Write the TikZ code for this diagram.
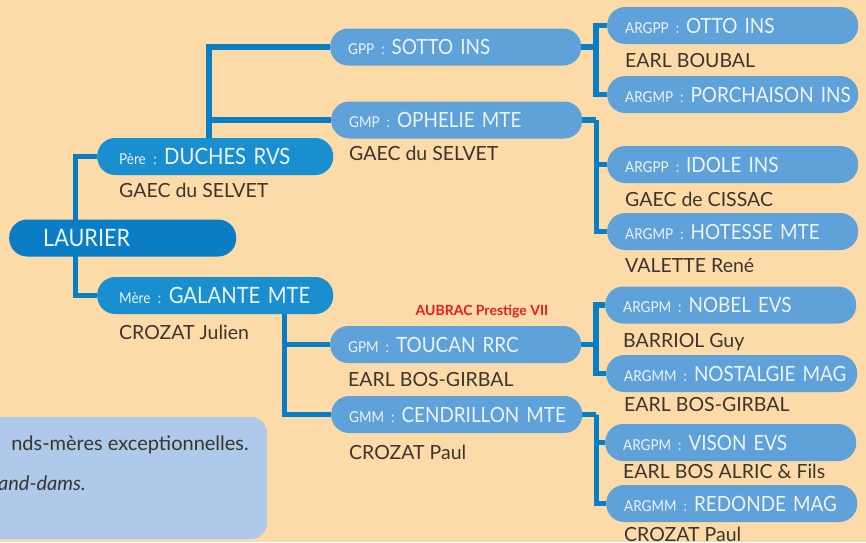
\documentclass[tikz,border=0pt]{standalone}
\usepackage{fontspec}
\setmainfont{Lato}
\newfontfamily\boxfont[FakeStretch=0.9]{Lato}
\usetikzlibrary{positioning, calc, backgrounds}
\definecolor{cPaper}{RGB}{252, 219, 168}
\definecolor{cRootFill}{RGB}{10, 125, 197}
\definecolor{cParentFill}{RGB}{26, 143, 208}
\definecolor{cAncFill}{RGB}{95, 162, 217}
\definecolor{cLink}{RGB}{8, 126, 197}
\definecolor{cLabel}{RGB}{236, 243, 250}
\definecolor{cOwner}{RGB}{60, 52, 46}
\definecolor{cNoteFill}{RGB}{174, 201, 233}
\definecolor{cPrize}{RGB}{226, 30, 40}
% rank in small letters, then the name, never broken
\newcommand{\horse}[2]{\mbox{{\fontsize{15}{15}\selectfont #1 :}\ #2}}
\tikzset{
    % --- base box ---
    baseBox/.style={
        rectangle, rounded corners=18pt,
        minimum height=37pt, inner ysep=0pt,
        text height=15pt, text depth=0pt,
        align=left, anchor=west, text=cLabel,
        font=\boxfont\fontsize{21}{21}\selectfont
    },
    % --- generations ---
    rootBox/.style={baseBox, fill=cRootFill, inner xsep=34pt, text width=159pt,
        text height=17pt, font=\boxfont\fontsize{24}{24}\selectfont},
    parentBox/.style={baseBox, fill=cParentFill, inner xsep=22pt, text width=192pt,
        text height=16pt, font=\boxfont\fontsize{22.5}{22.5}\selectfont},
    ancBox/.style={baseBox, fill=cAncFill, inner xsep=18pt, text width=215pt},
    % --- breeder names ---
    owner/.style={
        inner sep=0pt, text height=14pt, text depth=4pt,
        text=cOwner, font=\fontsize{19.5}{19.5}\selectfont
    },
    % --- links ---
    link/.style={draw=cLink, line width=5.5pt}
}
\begin{document}
\begin{tikzpicture}[x=1pt, y=-1pt]

    % =========================================================
    % background
    % =========================================================
    \useasboundingbox (0,0) rectangle (866,542);
    \begin{scope}[on background layer]
        \fill[cPaper] (0,0) rectangle (866,542);
    \end{scope}

    % note (cut by the page edge)
    \fill[cNoteFill, rounded corners=16pt] (-40,417) rectangle (267,539);
    \node[owner, anchor=east, font=\fontsize{20}{20}\selectfont] (noteA) at (249,445) {nds-mères exceptionnelles.};
    \node[owner, anchor=east, font=\fontsize{20}{20}\selectfont\itshape] (noteB) at (86,485) {and-dams.};

    % =========================================================
    % horses
    % =========================================================
    \node[rootBox] (laurier) at (9,238) {LAURIER};

    \node[parentBox] (pere) at (97,156.5) {\horse{Père}{DUCHES RVS}};
    \node[parentBox] (mere) at (97,295.5) {\horse{Mère}{GALANTE MTE}};

    \node[ancBox] (gpp) at (330,47) {\horse{GPP}{SOTTO INS}};
    \node[ancBox] (gmp) at (331,120) {\horse{GMP}{OPHELIE MTE}};
    \node[ancBox] (gpm) at (330,344.5) {\horse{GPM}{TOUCAN RRC}};
    \node[ancBox] (gmm) at (331,414.5) {\horse{GMM}{CENDRILLON MTE}};

    \node[ancBox] (otto) at (607,25.5) {\horse{ARGPP}{OTTO INS}};
    \node[ancBox] (porchaison) at (607,94.5) {\horse{ARGMP}{PORCHAISON INS}};
    \node[ancBox] (idole) at (607,164.5) {\horse{ARGPP}{IDOLE INS}};
    \node[ancBox] (hotesse) at (607,231.5) {\horse{ARGMP}{HOTESSE MTE}};
    \node[ancBox] (nobel) at (605,305) {\horse{ARGPM}{NOBEL EVS}};
    \node[ancBox] (nostalgie) at (606,373.5) {\horse{ARGMM}{NOSTALGIE MAG}};
    \node[ancBox] (vison) at (605,442.5) {\horse{ARGPM}{VISON EVS}};
    \node[ancBox] (redonde) at (606,503.5) {\horse{ARGMM}{REDONDE MAG}};

    % prize
    \node[inner sep=0pt, text=cPrize, font=\fontsize{14}{14}\selectfont\bfseries] (prize) at (482,312) {AUBRAC Prestige VII};

    % =========================================================
    % breeders
    % =========================================================
    \node[owner, below right=8.5pt and 22pt of pere.south west] (pereOwner) {GAEC du SELVET};
    \node[owner, below right=11.5pt and 22pt of mere.south west] (mereOwner) {CROZAT Julien};
    \node[owner, below right=7.5pt and 18pt of gmp.south west] (gmpOwner) {GAEC du SELVET};
    \node[owner, below right=9.5pt and 18pt of gpm.south west] (gpmOwner) {EARL BOS-GIRBAL};
    \node[owner, below right=12.5pt and 18pt of gmm.south west] (gmmOwner) {CROZAT Paul};
    \node[owner, below right=9.5pt and 18pt of otto.south west] (ottoOwner) {EARL BOUBAL};
    \node[owner, below right=9.5pt and 18pt of idole.south west] (idoleOwner) {GAEC de CISSAC};
    \node[owner, below right=8.5pt and 18pt of hotesse.south west] (hotesseOwner) {VALETTE René};
    \node[owner, below right=9.5pt and 18pt of nobel.south west] (nobelOwner) {BARRIOL Guy};
    \node[owner, below right=5.5pt and 18pt of nostalgie.south west] (nostalgieOwner) {EARL BOS-GIRBAL};
    \node[owner, below right=3pt and 18pt of vison.south west] (visonOwner) {EARL BOS ALRIC \& Fils};
    \node[owner, below right=5pt and 18pt of redonde.south west] (redondeOwner) {CROZAT Paul};

    % =========================================================
    % links
    % =========================================================
    \begin{scope}[on background layer]
        \draw[link] (pere.west) -| ([xshift=66.5pt]laurier.west) |- (mere.west);

        \draw[link] ([xshift=-6pt]pere.north) |- (gpp.west);
        \draw[link] ([xshift=-6pt]pere.north) |- (gmp.west);
        \draw[link] ([xshift=69.5pt]mere.south) |- (gpm.west);
        \draw[link] ([xshift=69.5pt]mere.south) |- (gmm.west);

        \draw[link] (gpp.east) -- ([xshift=14.5pt]gpp.east);
        \draw[link] (otto.west) -| ([xshift=14.5pt]gpp.east) |- (porchaison.west);
        \draw[link] (gmp.east) -- ([xshift=14pt]gmp.east);
        \draw[link] (idole.west) -| ([xshift=14pt]gmp.east) |- (hotesse.west);
        \draw[link] (gpm.east) -- ([xshift=14.5pt]gpm.east);
        \draw[link] (nobel.west) -| ([xshift=14.5pt]gpm.east) |- (nostalgie.west);
        \draw[link] (gmm.east) -- ([xshift=14pt]gmm.east);
        \draw[link] (vison.west) -| ([xshift=14pt]gmm.east) |- (redonde.west);
    \end{scope}

\end{tikzpicture}
\end{document}
